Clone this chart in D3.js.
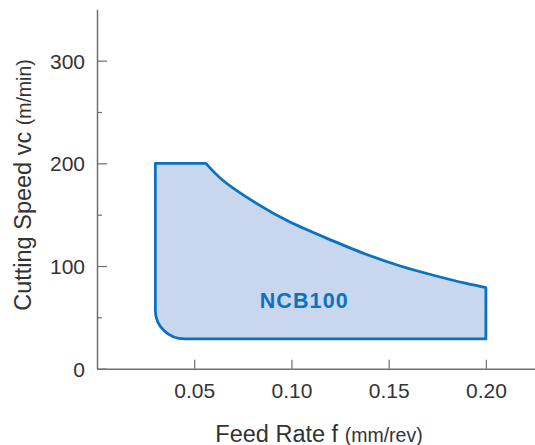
<!DOCTYPE html>
<html>
<head>
<meta charset="utf-8">
<script src="https://cdn.jsdelivr.net/npm/d3@7"></script>
<style>
  html, body { margin: 0; padding: 0; background: #fff; }
  svg { display: block; font-family: "Liberation Sans", Arial, Helvetica, sans-serif; }
</style>
</head>
<body>
<svg id="chart" width="535" height="445"></svg>
<script>
// Recommended cutting range for grade NCB100
const regionName = "NCB100";

// Boundary of the recommended region (feed in mm/rev, speed in m/min)
const feedMin = 0.03;
const feedMax = 0.20;
const speedMin = 29;
const speedTop = 200;

// Rounded lower-left corner: where the arc leaves each straight edge
const cornerFeed = 0.045;
const cornerSpeed = 57;

// Upper boundary: flat at 200 up to the knee, then falling off with feed
const curveFeed  = [0.056, 0.065, 0.082, 0.099, 0.122, 0.139, 0.156, 0.173, 0.190, 0.200];
const curveSpeed = [200,   183,   161,   143,   124,   111,   100,   91,    83,    79];

// Axis ticks
const xTicks = [0.05, 0.10, 0.15, 0.20];
const xTickLabels = ["0.05", "0.10", "0.15", "0.20"];
const yMajorTicks = [0, 100, 200, 300];
const yMinorTicks = [50, 150, 250];

const svg = d3.select("#chart");

const x = d3.scaleLinear().domain([0, 0.225]).range([97, 534.5]);
const y = d3.scaleLinear().domain([0, 350]).range([368.7, 9.3]);

const axisColor = "#6f6f6f";
const textColor = "#333333";

// ---- Region ----
const curvePts = curveFeed.map((f, i) => [x(f), y(curveSpeed[i])]);
const curvePath = d3.line().curve(d3.curveCatmullRom.alpha(0.5))(curvePts);

const k = 0.5523; // cubic approximation of a quarter circle
const p = d3.path();
p.moveTo(x(feedMin), y(cornerSpeed));
p.lineTo(x(feedMin), y(speedTop));
const outline = p.toString() + curvePath.replace(/^M/, "L");

const q = d3.path();
q.moveTo(x(feedMax), y(curveSpeed[curveSpeed.length - 1]));
q.lineTo(x(feedMax), y(speedMin));
q.lineTo(x(cornerFeed), y(speedMin));
q.bezierCurveTo(
  x(cornerFeed) - (x(cornerFeed) - x(feedMin)) * k, y(speedMin),
  x(feedMin), y(cornerSpeed) + (y(speedMin) - y(cornerSpeed)) * k,
  x(feedMin), y(cornerSpeed)
);
const fullPath = outline + q.toString().replace(/^M[^LC]*/, "") + "Z";

svg.append("path")
  .attr("d", fullPath)
  .attr("fill", "#c8d6ee")
  .attr("stroke", "#0a72bf")
  .attr("stroke-width", 2.8)
  .attr("stroke-linejoin", "round");

svg.append("text")
  .attr("x", x(0.1066))
  .attr("y", y(59.5))
  .attr("text-anchor", "middle")
  .attr("font-size", 21.5)
  .attr("font-weight", "bold")
  .attr("letter-spacing", 1.1)
  .attr("fill", "#0a72bf")
  .text(regionName);

// ---- Axes ----
const yMinor = svg.append("g")
  .attr("transform", `translate(${x(0)},0)`)
  .call(d3.axisLeft(y).tickValues(yMinorTicks).tickSizeInner(-5).tickSizeOuter(0).tickFormat(""));
yMinor.select(".domain").remove();

const yAxis = svg.append("g")
  .attr("transform", `translate(${x(0)},0)`)
  .call(d3.axisLeft(y).tickValues(yMajorTicks).tickSizeInner(-10).tickSizeOuter(0).tickPadding(12));

const xAxis = svg.append("g")
  .attr("transform", `translate(0,${y(0)})`)
  .call(d3.axisBottom(x).tickValues(xTicks).tickFormat((d, i) => xTickLabels[i])
    .tickSizeInner(-9).tickSizeOuter(0).tickPadding(14));

[yMinor, yAxis, xAxis].forEach(g => {
  g.selectAll("line").attr("stroke", axisColor).attr("stroke-width", 1.2);
  g.selectAll(".domain").attr("stroke", axisColor).attr("stroke-width", 1.5);
  g.selectAll("text")
    .attr("fill", textColor)
    .attr("font-size", 21)
    .attr("font-family", "'Liberation Sans', Arial, sans-serif");
});
yAxis.selectAll("text").attr("dy", "0.35em");
xAxis.selectAll("text").attr("dy", "0.71em");

// ---- Axis titles ----
const xTitle = svg.append("text")
  .attr("x", 319)
  .attr("y", 441.5)
  .attr("text-anchor", "middle")
  .attr("fill", textColor);
xTitle.append("tspan").attr("font-size", 23.5).text("Feed Rate f ");
xTitle.append("tspan").attr("font-size", 19.5).text("(mm/rev)");

const yTitle = svg.append("text")
  .attr("transform", "translate(31,185) rotate(-90)")
  .attr("text-anchor", "middle")
  .attr("fill", textColor);
yTitle.append("tspan").attr("font-size", 23.5).text("Cutting Speed vc ");
yTitle.append("tspan").attr("font-size", 19.5).text("(m/min)");
</script>
</body>
</html>
